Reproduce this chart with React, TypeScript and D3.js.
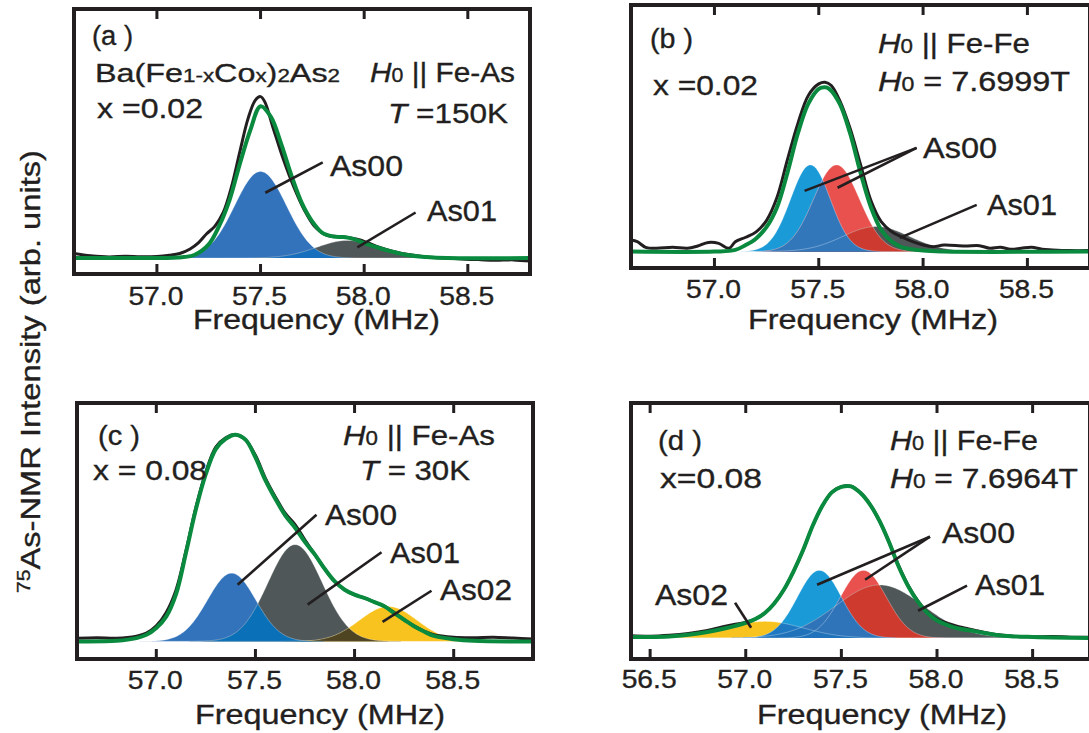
import React from 'react';
import * as d3 from 'd3';

type Pt = [number, number];
type Comp = { key: string; c: number; h: number; s: number };

const FONT = '"Liberation Sans", Arial, Helvetica, sans-serif';
const INK = '#231f20';
const GREEN = '#0a8a3e';

// ---------------- data ----------------
const ticksABC = [57.0, 57.5, 58.0, 58.5];
const ticksD = [56.5, 57.0, 57.5, 58.0, 58.5];

// panel (a): x = 0.02, H0 || Fe-As, T = 150 K
const expA: Pt[] = [
  [56.6, 0.03], [56.68, 0.015], [56.77, 0.007], [56.85, 0.012], [56.92, 0.008], [57.0, 0.01],
  [57.06, 0.018], [57.11, 0.03], [57.16, 0.06], [57.2, 0.1], [57.24, 0.16], [57.28, 0.21],
  [57.32, 0.3], [57.36, 0.47], [57.4, 0.7], [57.44, 0.92], [57.475, 1.04], [57.5, 1.063],
  [57.52, 1.03], [57.56, 0.86], [57.61, 0.65], [57.66, 0.47], [57.71, 0.32], [57.76, 0.21],
  [57.82, 0.15], [57.9, 0.14], [57.98, 0.12], [58.06, 0.077], [58.14, 0.044], [58.22, 0.022],
  [58.3, 0.007], [58.4, 0.0], [58.47, -0.007], [58.55, -0.01], [58.63, -0.015], [58.72, -0.012], [58.8, -0.02],
];
const fitA: Pt[] = [
  [56.6, 0], [56.9, 0], [57.1, 0.004], [57.18, 0.02], [57.25, 0.09], [57.3, 0.21], [57.35, 0.38],
  [57.4, 0.62], [57.45, 0.84], [57.5, 1.0], [57.55, 0.93], [57.6, 0.75], [57.65, 0.54], [57.7, 0.36],
  [57.75, 0.24], [57.8, 0.164], [57.85, 0.142], [57.9, 0.138], [57.95, 0.125], [58.0, 0.098],
  [58.1, 0.055], [58.2, 0.022], [58.3, 0.007], [58.4, 0.0], [58.8, 0.0],
];
const compA: Comp[] = [
  { key: 'blue', c: 57.5, h: 0.57, s: 0.125 },
  { key: 'gray', c: 57.92, h: 0.116, s: 0.15 },
];

// panel (b): x = 0.02, H0 || Fe-Fe, H0 = 7.6999 T
const expB: Pt[] = [
  [56.6, 0.07], [56.63, 0.06], [56.67, 0.026], [56.72, 0.02], [56.8, 0.026], [56.87, 0.02],
  [56.92, 0.034], [56.97, 0.055], [57.02, 0.05], [57.07, 0.02], [57.1, 0.06], [57.15, 0.087],
  [57.2, 0.12], [57.25, 0.19], [57.3, 0.33], [57.35, 0.56], [57.4, 0.78], [57.45, 0.95],
  [57.5, 1.02], [57.53, 1.03], [57.56, 1.01], [57.6, 0.92], [57.65, 0.75], [57.7, 0.53],
  [57.75, 0.31], [57.8, 0.18], [57.85, 0.12], [57.9, 0.087], [57.95, 0.06], [58.0, 0.04],
  [58.05, 0.03], [58.1, 0.04], [58.2, 0.034], [58.27, 0.036], [58.32, 0.02], [58.37, 0.026],
  [58.42, 0.014], [58.47, 0.02], [58.52, 0.026], [58.57, 0.014], [58.62, 0.01], [58.7, 0.006], [58.8, 0.006],
];
const fitB: Pt[] = [
  [56.6, 0], [57.0, 0], [57.1, 0.01], [57.15, 0.04], [57.2, 0.08], [57.25, 0.15], [57.3, 0.27],
  [57.35, 0.48], [57.4, 0.72], [57.45, 0.9], [57.5, 0.99], [57.53, 1.0], [57.55, 0.99], [57.6, 0.9],
  [57.65, 0.72], [57.7, 0.48], [57.75, 0.27], [57.8, 0.13], [57.85, 0.06], [57.9, 0.026],
  [58.0, 0.006], [58.1, 0], [58.8, 0],
];
const compB: Comp[] = [
  { key: 'lb', c: 57.46, h: 0.527, s: 0.095 },
  { key: 'red', c: 57.585, h: 0.527, s: 0.11 },
  { key: 'gray', c: 57.775, h: 0.152, s: 0.16 },
];

// panel (c): x = 0.08, H0 || Fe-As, T = 30 K
const expC: Pt[] = [
  [56.6, 0.015], [56.7, 0.018], [56.8, 0.015], [56.9, 0.025], [56.95, 0.04], [57.0, 0.075],
  [57.05, 0.14], [57.1, 0.25], [57.15, 0.44], [57.2, 0.65], [57.25, 0.82], [57.3, 0.94],
  [57.35, 0.985], [57.4, 1.0], [57.45, 0.975], [57.5, 0.9], [57.55, 0.79], [57.6, 0.7],
  [57.65, 0.62], [57.7, 0.565], [57.75, 0.49], [57.8, 0.42], [57.85, 0.35], [57.9, 0.29],
  [57.95, 0.25], [58.0, 0.225], [58.05, 0.21], [58.1, 0.19], [58.15, 0.17], [58.2, 0.14],
  [58.25, 0.105], [58.3, 0.075], [58.35, 0.05], [58.4, 0.032], [58.5, 0.02], [58.6, 0.018],
  [58.7, 0.02], [58.8, 0.016], [58.9, 0.012],
];
const fitC: Pt[] = [
  [56.6, 0], [56.8, 0.003], [56.9, 0.016], [56.95, 0.032], [57.0, 0.065], [57.05, 0.12],
  [57.1, 0.23], [57.15, 0.43], [57.2, 0.64], [57.25, 0.81], [57.3, 0.93], [57.35, 0.98],
  [57.4, 1.0], [57.45, 0.976], [57.5, 0.89], [57.55, 0.78], [57.6, 0.69], [57.65, 0.61],
  [57.7, 0.55], [57.75, 0.48], [57.8, 0.42], [57.85, 0.35], [57.9, 0.29], [57.95, 0.25],
  [58.0, 0.226], [58.05, 0.21], [58.1, 0.19], [58.15, 0.17], [58.2, 0.137], [58.25, 0.105],
  [58.3, 0.073], [58.35, 0.048], [58.4, 0.027], [58.5, 0.011], [58.6, 0.003], [58.9, 0],
];
const compC: Comp[] = [
  { key: 'blue', c: 57.38, h: 0.33, s: 0.122 },
  { key: 'gray', c: 57.7, h: 0.468, s: 0.137 },
  { key: 'yellow', c: 58.17, h: 0.169, s: 0.145 },
];

// panel (d): x = 0.08, H0 || Fe-Fe, H0 = 7.6964 T
const expD: Pt[] = [
  [56.4, 0.015], [56.5, 0.012], [56.6, 0.018], [56.7, 0.03], [56.8, 0.05], [56.9, 0.08],
  [57.0, 0.105], [57.05, 0.125], [57.1, 0.165], [57.15, 0.23], [57.2, 0.32], [57.25, 0.44],
  [57.3, 0.58], [57.35, 0.74], [57.4, 0.87], [57.45, 0.96], [57.5, 0.997], [57.55, 1.0],
  [57.6, 0.958], [57.65, 0.88], [57.7, 0.77], [57.75, 0.63], [57.8, 0.475], [57.85, 0.345],
  [57.9, 0.245], [57.95, 0.17], [58.0, 0.125], [58.05, 0.1], [58.1, 0.08], [58.15, 0.065],
  [58.2, 0.05], [58.3, 0.025], [58.4, 0.012], [58.5, 0.008], [58.6, 0.01], [58.7, 0.006], [58.8, 0.005],
];
const fitD: Pt[] = [
  [56.4, 0.007], [56.5, 0.007], [56.6, 0.011], [56.7, 0.022], [56.8, 0.04], [56.9, 0.066],
  [57.0, 0.1], [57.05, 0.125], [57.1, 0.165], [57.15, 0.23], [57.2, 0.32], [57.25, 0.44],
  [57.3, 0.58], [57.35, 0.74], [57.4, 0.87], [57.45, 0.96], [57.5, 0.996], [57.55, 1.0],
  [57.6, 0.956], [57.65, 0.88], [57.7, 0.77], [57.75, 0.63], [57.8, 0.47], [57.85, 0.34],
  [57.9, 0.24], [57.95, 0.165], [58.0, 0.116], [58.05, 0.088], [58.1, 0.066], [58.2, 0.044],
  [58.3, 0.022], [58.4, 0.011], [58.5, 0.007], [58.6, 0.004], [58.8, 0],
];
const compD: Comp[] = [
  { key: 'yellow', c: 57.1, h: 0.11, s: 0.2 },
  { key: 'lb', c: 57.385, h: 0.446, s: 0.115 },
  { key: 'red', c: 57.615, h: 0.446, s: 0.12 },
  { key: 'gray', c: 57.7, h: 0.35, s: 0.23 },
];

// leader lines [f1, v1, f2, v2] in data coordinates
const leadA = [[57.8, 0.63, 57.523, 0.43], [58.248, 0.3, 57.967, 0.07]];
const leadB = [[57.969, 0.631, 57.432, 0.369], [57.969, 0.631, 57.59, 0.388], [58.257, 0.284, 57.888, 0.083]];
const leadC = [[57.808, 0.613, 57.41, 0.274], [58.136, 0.431, 57.763, 0.178], [58.388, 0.245, 58.141, 0.095]];
const leadD = [[57.963, 0.668, 57.373, 0.351], [57.963, 0.668, 57.624, 0.384], [58.157, 0.345, 57.901, 0.18], [56.944, 0.233, 57.028, 0.068]];

// ---------------- styles ----------------
const FILL: Record<string, string> = {
  blue: '#3373bb',
  lb: '#1a9ad7',
  red: '#e8514e',
  gray: '#4f5759',
  yellow: '#f9c31f',
};

type Part = { t: string; size?: number; italic?: boolean };
type TextItem = { x: number; y: number; w: number; size: number; parts: Part[] };

const P = (t: string, size?: number, italic?: boolean): Part => ({ t, size, italic });

const textsA: TextItem[] = [
  { x: 92, y: 45, w: 41, size: 27, parts: [P('(a )')] },
  { x: 95, y: 82, w: 245, size: 26, parts: [P('Ba(Fe'), P('1-x', 18), P('Co'), P('x', 18), P(')'), P('2', 18), P('As'), P('2', 18)] },
  { x: 97, y: 118, w: 106, size: 28, parts: [P('x =0.02')] },
  { x: 370, y: 82, w: 145, size: 28, parts: [P('H', undefined, true), P('0', 20), P('\u00a0|| Fe-As')] },
  { x: 388, y: 123, w: 120, size: 28, parts: [P('T', undefined, true), P('\u00a0=150K')] },
  { x: 330, y: 176, w: 73, size: 29, parts: [P('As00')] },
  { x: 427, y: 221, w: 70, size: 29, parts: [P('As01')] },
];
const textsB: TextItem[] = [
  { x: 650, y: 48, w: 43, size: 27, parts: [P('(b )')] },
  { x: 653, y: 95, w: 105, size: 28, parts: [P('x =0.02')] },
  { x: 878, y: 53, w: 152, size: 28, parts: [P('H', undefined, true), P('0', 20), P('\u00a0|| Fe-Fe')] },
  { x: 878, y: 91, w: 192, size: 28, parts: [P('H', undefined, true), P('0', 20), P('\u00a0= 7.6999T')] },
  { x: 923, y: 158, w: 74, size: 29, parts: [P('As00')] },
  { x: 987, y: 215, w: 70, size: 29, parts: [P('As01')] },
];
const textsC: TextItem[] = [
  { x: 98, y: 445, w: 42, size: 27, parts: [P('(c )')] },
  { x: 93, y: 480, w: 114, size: 28, parts: [P('x = 0.08')] },
  { x: 343, y: 445, w: 152, size: 28, parts: [P('H', undefined, true), P('0', 20), P('\u00a0|| Fe-As')] },
  { x: 360, y: 480, w: 110, size: 28, parts: [P('T', undefined, true), P('\u00a0= 30K')] },
  { x: 325, y: 525, w: 72, size: 29, parts: [P('As00')] },
  { x: 390, y: 563, w: 70, size: 29, parts: [P('As01')] },
  { x: 440, y: 600, w: 72, size: 29, parts: [P('As02')] },
];
const textsD: TextItem[] = [
  { x: 658, y: 450, w: 44, size: 27, parts: [P('(d )')] },
  { x: 660, y: 488, w: 102, size: 28, parts: [P('x=0.08')] },
  { x: 890, y: 450, w: 148, size: 28, parts: [P('H', undefined, true), P('0', 20), P('\u00a0|| Fe-Fe')] },
  { x: 890, y: 488, w: 188, size: 28, parts: [P('H', undefined, true), P('0', 20), P('\u00a0= 7.6964T')] },
  { x: 942, y: 543, w: 73, size: 29, parts: [P('As00')] },
  { x: 975, y: 595, w: 70, size: 29, parts: [P('As01')] },
  { x: 655, y: 605, w: 73, size: 29, parts: [P('As02')] },
];

type PanelCfg = {
  id: string;
  frame: { x0: number; x1: number; y0: number; y1: number };
  xDomain: [number, number];
  yDomain: [number, number];
  ticks: number[];
  tickY: number;
  xLabel: { x0: number; x1: number; y: number };
  exp: Pt[];
  fit: Pt[];
  comps: Comp[];
  overlaps: [string, string, string][];
  leads: number[][];
  texts: TextItem[];
};

const panels: PanelCfg[] = [
  {
    id: 'a', frame: { x0: 74, x1: 530, y0: 9, y1: 274 }, xDomain: [56.6, 58.8], yDomain: [-0.105, 1.64],
    ticks: ticksABC, tickY: 305, xLabel: { x0: 193, x1: 440, y: 329 },
    exp: expA, fit: fitA, comps: compA,
    overlaps: [['blue', 'gray', '#176fbd']],
    leads: leadA, texts: textsA,
  },
  {
    id: 'b', frame: { x0: 631, x1: 1090, y0: 5, y1: 268 }, xDomain: [56.6, 58.8], yDomain: [-0.1, 1.5],
    ticks: ticksABC, tickY: 298, xLabel: { x0: 748, x1: 998, y: 329 },
    exp: expB, fit: fitB, comps: compB,
    overlaps: [['red', 'gray', '#cd3a2f'], ['lb', 'red', '#3377bb'], ['lb', 'gray', '#3377bb']],
    leads: leadB, texts: textsB,
  },
  {
    id: 'c', frame: { x0: 77, x1: 533, y0: 403, y1: 659 }, xDomain: [56.6, 58.9], yDomain: [-0.085, 1.153],
    ticks: ticksABC, tickY: 689, xLabel: { x0: 195, x1: 445, y: 724 },
    exp: expC, fit: fitC, comps: compC,
    overlaps: [['gray', 'yellow', '#4e4422'], ['blue', 'gray', '#0a70b8'], ['blue', 'yellow', '#0a70b8']],
    leads: leadC, texts: textsC,
  },
  {
    id: 'd', frame: { x0: 631, x1: 1090, y0: 403, y1: 659 }, xDomain: [56.4, 58.8], yDomain: [-0.138, 1.549],
    ticks: ticksD, tickY: 688, xLabel: { x0: 757, x1: 1007, y: 724 },
    exp: expD, fit: fitD, comps: compD,
    overlaps: [['red', 'gray', '#cf3a2f'], ['lb', 'red', '#2f74b9'], ['lb', 'gray', '#2f74b9'],
      ['yellow', 'lb', '#1f79c2'], ['yellow', 'red', '#2073bb'], ['yellow', 'gray', '#2073bb']],
    leads: leadD, texts: textsD,
  },
];

const TEXT_STROKE = { stroke: INK, strokeWidth: 0.35 };

function RichText({ item }: { item: TextItem }) {
  return (
    <text x={item.x} y={item.y} fontSize={item.size} fill={INK} fontFamily={FONT} {...TEXT_STROKE}
      textLength={item.w} lengthAdjust="spacingAndGlyphs" style={{ whiteSpace: 'pre' }}>
      {item.parts.map((p, i) => (
        <tspan key={i} fontSize={p.size} fontStyle={p.italic ? 'italic' : undefined}>{p.t}</tspan>
      ))}
    </text>
  );
}

function Panel({ cfg }: { cfg: PanelCfg }) {
  const { frame, xDomain, yDomain } = cfg;
  const x = d3.scaleLinear().domain(xDomain).range([frame.x0, frame.x1]);
  const y = d3.scaleLinear().domain(yDomain).range([frame.y1, frame.y0]);
  const grid = d3.range(xDomain[0], xDomain[1] + 1e-9, 0.004);
  const fn: Record<string, (f: number) => number> = {};
  cfg.comps.forEach((c) => {
    fn[c.key] = (f: number) => c.h * Math.exp(-((f - c.c) ** 2) / (2 * c.s * c.s));
  });
  const areaOf = (g: (f: number) => number) =>
    d3.area<number>().x((f) => x(f)).y0(y(0)).y1((f) => y(g(f)))(grid) || '';
  const topOf = (g: (f: number) => number) =>
    d3.line<number>().x((f) => x(f)).y((f) => y(g(f)))(grid) || '';
  const line = d3.line<Pt>().x((d) => x(d[0])).y((d) => y(d[1])).curve(d3.curveCatmullRom.alpha(0.5));
  const clipId = `clip-${cfg.id}`;
  const w = frame.x1 - frame.x0;
  const h = frame.y1 - frame.y0;

  return (
    <g>
      <defs>
        <clipPath id={clipId}>
          <rect x={frame.x0} y={frame.y0} width={w} height={h} />
        </clipPath>
      </defs>
      <g clipPath={`url(#${clipId})`}>
        {cfg.comps.map((c) => (
          <path key={c.key} d={areaOf(fn[c.key])} fill={FILL[c.key]} />
        ))}
        {cfg.overlaps.map(([k1, k2, col], i) => (
          <path key={'o' + i} d={areaOf((f) => Math.min(fn[k1](f), fn[k2](f)))} fill={col} />
        ))}
        {cfg.comps.map((c) => (
          <path key={'t' + c.key} d={topOf(fn[c.key])} fill="none" stroke="rgba(255,255,255,0.4)" strokeWidth={0.8} />
        ))}
        <path d={line(cfg.exp) || ''} fill="none" stroke={INK} strokeWidth={3} strokeLinejoin="round" />
        <path d={line(cfg.fit) || ''} fill="none" stroke={GREEN} strokeWidth={4} strokeLinejoin="round" />
        {cfg.leads.map((l, i) => (
          <line key={'l' + i} x1={x(l[0])} y1={y(l[1])} x2={x(l[2])} y2={y(l[3])} stroke={INK} strokeWidth={2.6} />
        ))}
      </g>
      {cfg.ticks.map((t) => (
        <g key={t}>
          <line x1={x(t)} x2={x(t)} y1={frame.y1} y2={frame.y1 - 10} stroke={INK} strokeWidth={3} />
          <line x1={x(t)} x2={x(t)} y1={frame.y0} y2={frame.y0 + 10} stroke={INK} strokeWidth={3} />
          <text x={x(t) - 1} y={cfg.tickY} fontSize={26} textAnchor="middle" fill={INK} fontFamily={FONT}
            {...TEXT_STROKE} textLength={55} lengthAdjust="spacingAndGlyphs">
            {d3.format('.1f')(t)}
          </text>
        </g>
      ))}
      <rect x={frame.x0} y={frame.y0} width={w} height={h} fill="none" stroke={INK} strokeWidth={4} />
      <text x={cfg.xLabel.x0} y={cfg.xLabel.y} fontSize={28} fill={INK} fontFamily={FONT} {...TEXT_STROKE}
        textLength={cfg.xLabel.x1 - cfg.xLabel.x0} lengthAdjust="spacingAndGlyphs">
        Frequency (MHz)
      </text>
      {cfg.texts.map((t, i) => (
        <RichText key={i} item={t} />
      ))}
    </g>
  );
}

export default function App() {
  return (
    <svg width={1089} height={733} style={{ position: 'absolute', left: 0, top: 0, background: '#fff' }}
      fontFamily={FONT}>
      <rect x={0} y={0} width={1089} height={733} fill="#fff" />
      {panels.map((p) => (
        <Panel key={p.id} cfg={p} />
      ))}
      <text transform="translate(40,371.5) rotate(-90)" textAnchor="middle" fontSize={28} fill={INK}
        fontFamily={FONT} {...TEXT_STROKE} textLength={443} lengthAdjust="spacingAndGlyphs">
        <tspan fontSize={18} dy={-10}>75</tspan>
        <tspan dy={10}>As-NMR Intensity (arb. units)</tspan>
      </text>
    </svg>
  );
}
